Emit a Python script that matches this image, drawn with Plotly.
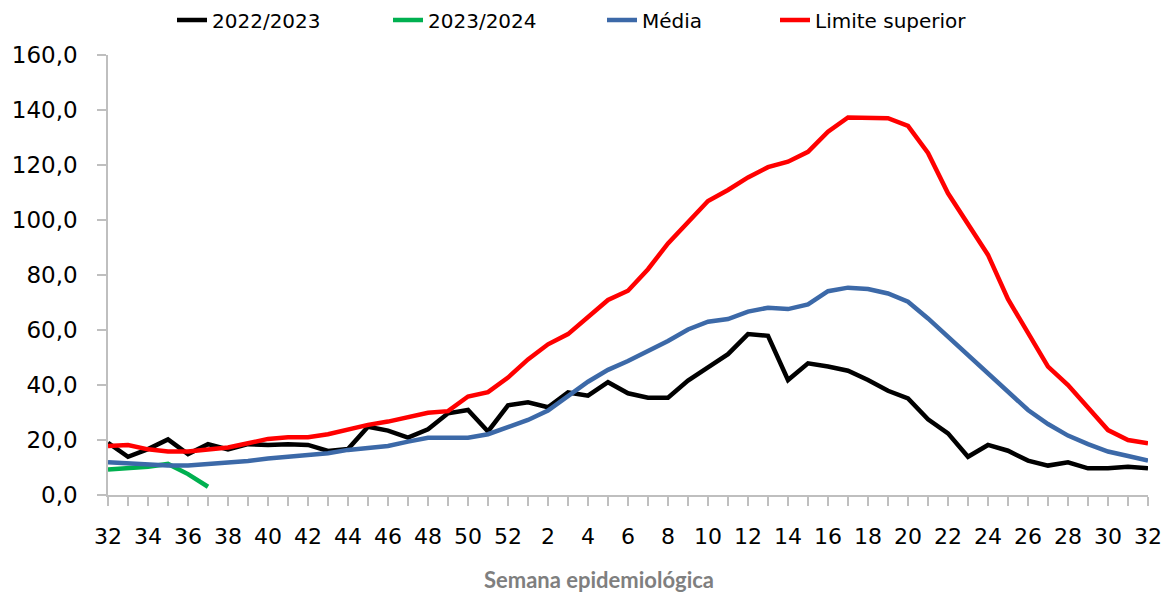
import plotly.graph_objects as go

weeks = [str(w) for w in list(range(32, 53)) + list(range(1, 33))]

s2022 = [19.0, 13.9, 16.7, 20.2, 14.9, 18.5, 16.6, 18.5, 18.2, 18.5, 18.2, 16.0, 16.7,
         24.8, 23.4, 20.9, 23.9, 29.7, 30.9, 23.1, 32.6, 33.7, 31.9, 37.3, 36.1, 41.0,
         37.0, 35.4, 35.4, 41.6, 46.4, 51.2, 58.5, 57.9, 41.8, 47.9, 46.7, 45.2, 41.8,
         37.9, 35.1, 27.5, 22.4, 13.9, 18.2, 16.1, 12.5, 10.7, 11.9, 9.7, 9.7, 10.3, 9.7]

s2023 = [9.3, 9.7, 10.3, 11.3, 7.6, 3.0]

media = [11.9, 11.4, 10.9, 10.7, 10.7, 11.2, 11.8, 12.4, 13.3, 13.9, 14.5, 15.2, 16.4,
         17.3, 17.8, 19.4, 20.8, 20.8, 20.8, 22.1, 24.8, 27.3, 30.7, 35.8, 41.2, 45.5,
         48.7, 52.4, 56.0, 60.2, 63.0, 64.0, 66.7, 68.1, 67.6, 69.3, 74.1, 75.4, 74.9,
         73.3, 70.3, 64.2, 57.6, 50.9, 44.0, 37.6, 30.9, 25.8, 21.6, 18.5, 15.8, 14.2, 12.5]

limite = [17.8, 18.2, 16.6, 15.8, 15.8, 16.6, 17.3, 18.8, 20.4, 21.0, 21.0, 22.1, 23.9,
          25.5, 26.7, 28.1, 29.9, 30.5, 35.8, 37.4, 42.7, 49.3, 54.8, 58.5, 64.8, 70.9,
          74.3, 82.1, 91.5, 99.4, 106.9, 110.9, 115.5, 119.2, 121.2, 124.8, 132.1, 137.3,
          137.0, 137.0, 134.2, 124.4, 109.7, 98.2, 87.3, 71.2, 58.8, 46.7, 40.0, 31.5,
          23.6, 20.0, 18.8]

yticks = [0, 20, 40, 60, 80, 100, 120, 140, 160]

x_all = list(range(len(weeks)))
tick_text = [w if i % 2 == 0 else "" for i, w in enumerate(weeks)]

fig = go.Figure()
fig.add_trace(go.Scatter(x=x_all, y=s2022, mode="lines", name="2022/2023",
                         line=dict(color="#000000", width=4.5), legend="legend"))
fig.add_trace(go.Scatter(x=x_all[:len(s2023)], y=s2023, mode="lines", name="2023/2024",
                         line=dict(color="#00B050", width=4.5), legend="legend2"))
fig.add_trace(go.Scatter(x=x_all, y=media, mode="lines", name="Média",
                         line=dict(color="#3C69A8", width=4.5), legend="legend3"))
fig.add_trace(go.Scatter(x=x_all, y=limite, mode="lines", name="Limite superior",
                         line=dict(color="#FF0000", width=4.5), legend="legend4"))

def leg(xp):
    return dict(orientation="h", x=(xp - 108) / 1040, xanchor="left", y=1 + 35 / 440,
                yanchor="middle", font=dict(family="DejaVu Sans", size=20, color="#000000"),
                bgcolor="rgba(0,0,0,0)", borderwidth=0)

fig.update_layout(
    width=1166, height=592,
    margin=dict(l=108, r=18, t=55, b=97, autoexpand=False),
    paper_bgcolor="white", plot_bgcolor="white",
    separators=",.",
    font=dict(family="DejaVu Sans", color="#000000"),
    showlegend=True,
    legend=leg(172), legend2=leg(388), legend3=leg(602), legend4=leg(775),
    xaxis=dict(range=[0, len(weeks) - 1], tickmode="array", tickvals=x_all, ticktext=tick_text,
               showgrid=False, zeroline=False, showline=True, linecolor="#BFBFBF", linewidth=1.5,
               ticks="outside", ticklen=9, tickcolor="#BFBFBF", tickwidth=1.5,
               tickfont=dict(size=22, family="DejaVu Sans", color="#000000"),
               ticklabelstandoff=12, automargin=False),
    yaxis=dict(range=[0, 160], tickmode="array", tickvals=yticks, tickformat=".1f",
               showgrid=False, zeroline=False, showline=True, linecolor="#BFBFBF", linewidth=1.5,
               ticks="outside", ticklen=9, tickcolor="#BFBFBF", tickwidth=1.5,
               tickfont=dict(size=23, family="DejaVu Sans", color="#000000"),
               ticklabelstandoff=15, automargin=False),
    annotations=[dict(text="<b>Semana epidemiológica</b>", xref="paper", yref="paper",
                      x=0.472, y=-0.193, xanchor="center", yanchor="middle", showarrow=False,
                      font=dict(family="Lato", size=22, color="#7F7F7F"))],
)

fig.write_html("out.html", config={"displayModeBar": False},
               post_script="document.body.style.margin='0';document.body.style.overflow='hidden';")
